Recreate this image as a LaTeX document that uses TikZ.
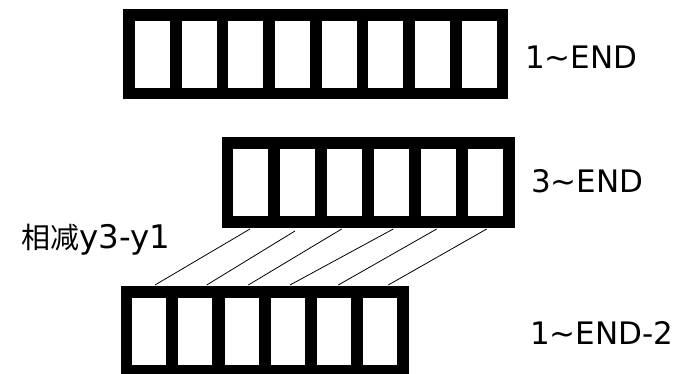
\documentclass[tikz,border=0pt]{standalone}
\usepackage{fontspec}
\setmainfont{DejaVu Sans}
\newfontfamily\cjkfont{Noto Sans CJK SC}
\begin{document}
\begin{tikzpicture}[x=1pt,y=-1pt,
  frame/.style={draw=none,fill=black,inner sep=0pt,outer sep=0pt,rectangle},
  cell/.style={draw=none,fill=white,inner sep=0pt,outer sep=0pt,rectangle,minimum width=35pt,minimum height=67pt},
  link/.style={draw=black,line width=0.8pt},
  lbl/.style={inner sep=0pt,font=\fontsize{31}{34}\selectfont,anchor=west}]
\useasboundingbox (0,0) rectangle (689,374);
% top array
\node[frame,minimum width=385pt,minimum height=90pt] (topA) at (315.5,54) {};
\foreach \i in {0,...,7} {
  \node[cell] (tc\i) at ({152.5+46.67*\i},54.5) {};
}
% middle array
\node[frame,minimum width=293.3pt,minimum height=91.3pt] (midA) at (368.35,182.35) {};
\foreach \i in {0,...,5} {
  \node[cell,minimum height=66.7pt] (mc\i) at ({250.8+47*\i},182.65) {};
}
% bottom array
\node[frame,minimum width=288.6pt,minimum height=90pt] (botA) at (265,330.7) {};
\foreach \i in {0,...,5} {
  \node[cell,minimum width=34pt] (bc\i) at ({149.3+46.1*\i},331.3) {};
}
% link end points
\coordinate (t0) at (250,229); \coordinate (b0) at (155,285);
\coordinate (t1) at (295,231); \coordinate (b1) at (206.7,285);
\coordinate (t2) at (341.7,229); \coordinate (b2) at (248.3,285);
\coordinate (t3) at (393.3,229); \coordinate (b3) at (290,285);
\coordinate (t4) at (436.7,229); \coordinate (b4) at (338.3,285);
\coordinate (t5) at (486.7,229); \coordinate (b5) at (388.3,285);
\foreach \i in {0,...,5} { \draw[link] (t\i) -- (b\i); }
% labels
\node[lbl] (l1) at (525,57) {1\textasciitilde END};
\node[lbl] (l2) at (531,181) {3\textasciitilde END};
\node[lbl] (l3) at (530,333) {1\textasciitilde END-2};
\node[lbl] (l4) at (21,240) {{\cjkfont\fontsize{29}{32}\selectfont 相减}{\fontsize{32.5}{35}\selectfont y3-y1}};
\end{tikzpicture}
\end{document}
